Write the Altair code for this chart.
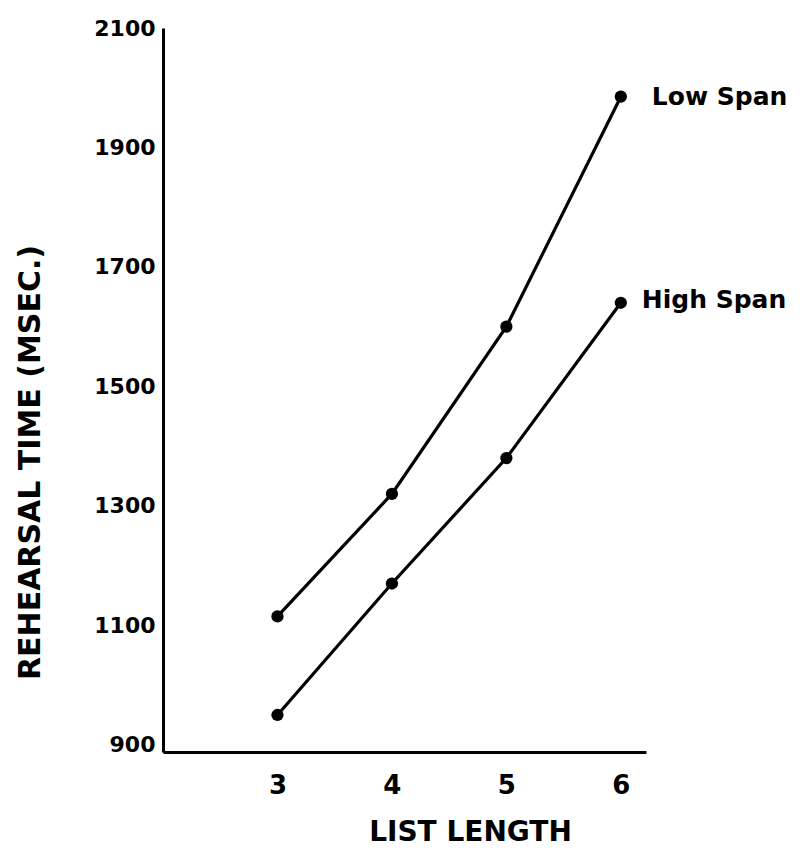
import altair as alt
import pandas as pd

list_length = [3, 4, 5, 6]
low_span = [1115, 1320, 1600, 1985]
high_span = [950, 1170, 1380, 1640]
y_ticks = [900, 1100, 1300, 1500, 1700, 1900, 2100]
x_ticks = [3, 4, 5, 6]

rows = []
for x, v in zip(list_length, low_span):
    rows.append({"len": x, "time": v, "group": "Low Span"})
for x, v in zip(list_length, high_span):
    rows.append({"len": x, "time": v, "group": "High Span"})
df = pd.DataFrame(rows)

FONT = "DejaVu Sans"

xs = alt.Scale(domain=[2, 6.22], nice=False, zero=False)
ys = alt.Scale(domain=[888, 2100], nice=False, zero=False)

x_enc = alt.X(
    "len:Q", scale=xs,
    axis=alt.Axis(
        values=x_ticks, format="d", ticks=False, grid=False, domainColor="black",
        domainWidth=3, labelFont=FONT, labelFontSize=26, labelFontWeight="bold",
        labelColor="black", labelPadding=20, title="LIST LENGTH", titleFont=FONT,
        titleFontSize=28, titleFontWeight="bold", titleColor="black",
        titleX=307, titleY=80, titleAlign="center", titleBaseline="middle",
    ),
)
y_enc = alt.Y(
    "time:Q", scale=ys,
    axis=alt.Axis(
        values=y_ticks, format="d", ticks=False, grid=False, domainColor="black",
        domainWidth=3, labelFont=FONT, labelFontSize=22, labelFontWeight="bold",
        labelColor="black", labelPadding=8, title="REHEARSAL TIME (MSEC.)",
        titleFont=FONT, titleFontSize=30, titleFontWeight="bold", titleColor="black",
        titleX=-133, titleY=434, titleAngle=-90, titleAlign="center",
        titleBaseline="middle",
    ),
)

base = alt.Chart(df)
lines = base.mark_line(color="black", strokeWidth=3.2).encode(
    x=x_enc, y=y_enc, detail="group:N"
)
points = base.mark_circle(color="black", size=150, opacity=1).encode(
    x="len:Q", y="time:Q"
)
low_lab = base.transform_filter(
    (alt.datum.group == "Low Span") & (alt.datum.len == 6)
).mark_text(
    align="left", baseline="middle", dx=31, font=FONT, fontSize=25,
    fontWeight="bold", color="black"
).encode(x="len:Q", y="time:Q", text="group:N")
high_lab = base.transform_filter(
    (alt.datum.group == "High Span") & (alt.datum.len == 6)
).mark_text(
    align="left", baseline="middle", dx=21, dy=-3, font=FONT, fontSize=25,
    fontWeight="bold", color="black"
).encode(x="len:Q", y="time:Q", text="group:N")

chart = alt.layer(lines, points, low_lab, high_lab).properties(
    width=483, height=724,
    autosize=alt.AutoSizeParams(type="none"),
    padding={"left": 155, "top": 20, "right": 146, "bottom": 100},
    background="white",
).configure_view(stroke=None)

chart.save("out.html", embed_options={"renderer": "svg", "actions": False})
